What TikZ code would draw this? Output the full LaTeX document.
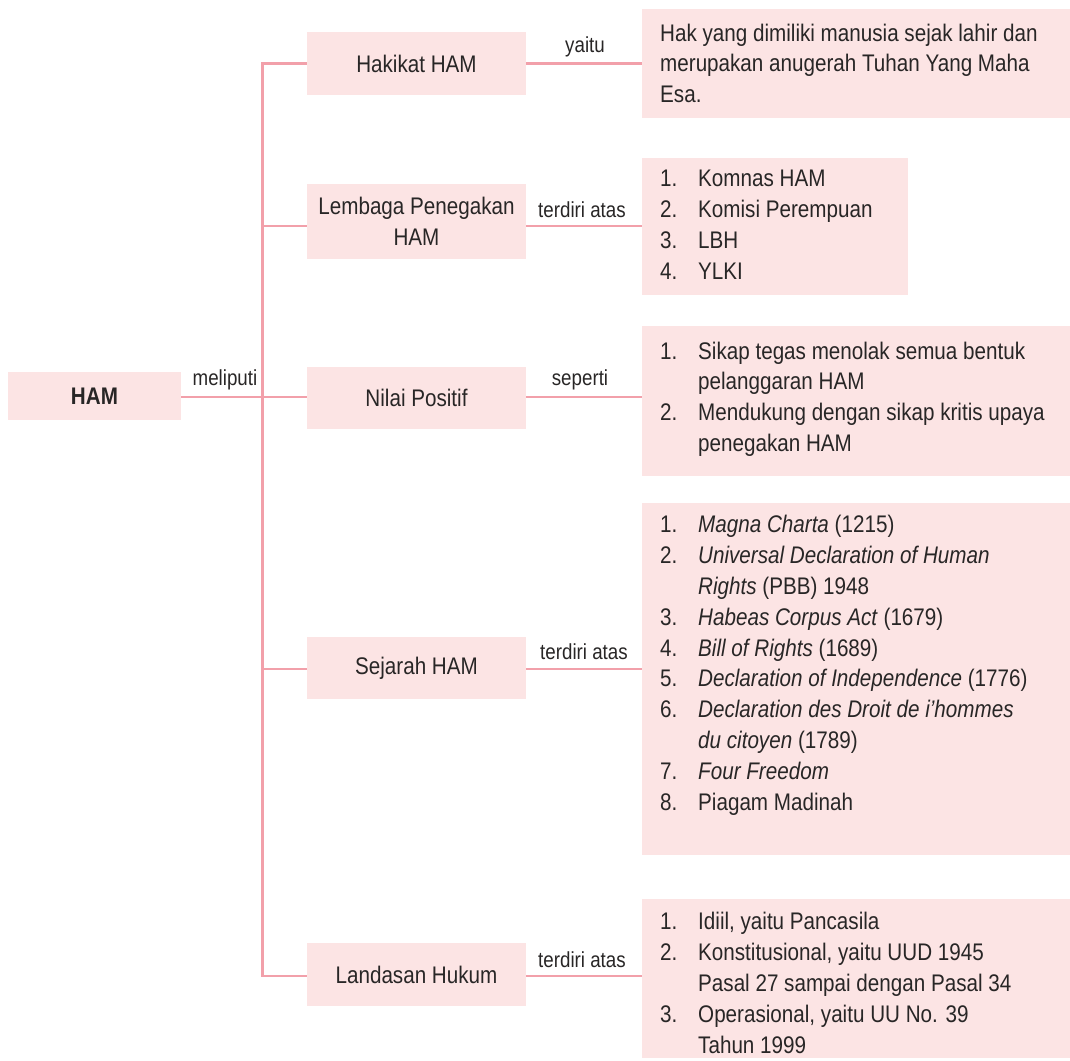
\documentclass[tikz,border=0pt]{standalone}
\usepackage{fontspec}
\setmainfont[FakeStretch=0.86]{Liberation Sans}
\definecolor{boxpink}{RGB}{252,228,228}
\definecolor{linepink}{RGB}{242,160,170}
\definecolor{ink}{RGB}{40,38,38}
\newcommand{\itm}[2]{\makebox[38pt][l]{#1.}#2}
\newcommand{\cnt}[1]{\hspace*{38pt}#1}
\begin{document}
\begin{tikzpicture}[x=1pt,y=-1pt,
  box/.style={fill=boxpink, draw=none, inner sep=0pt, text=ink, align=center,
    font=\fontsize{24}{30.8}\selectfont},
  txt/.style={inner sep=0pt, text=ink, align=left, font=\fontsize{24}{30.8}\selectfont},
  lbl/.style={inner sep=0pt, text=ink, font=\fontsize{21.8}{24}\selectfont},
  conn/.style={draw=linepink, line width=2.4pt}]
\useasboundingbox (0,0) rectangle (1070,1060);
% left and middle boxes
\node[box, minimum width=173pt, minimum height=48pt, font=\fontsize{24}{30.8}\selectfont\bfseries] (ham) at (94.5,396) {HAM};
\node[box, minimum width=219pt, minimum height=63pt] (hak) at (416.5,63.5) {Hakikat HAM};
\node[box, minimum width=219pt, minimum height=75pt] (lem) at (416.5,221.5) {Lembaga Penegakan\\HAM};
\node[box, minimum width=219pt, minimum height=62pt] (nil) at (416.5,398) {Nilai Positif};
\node[box, minimum width=219pt, minimum height=62pt] (sej) at (416.5,668) {Sejarah HAM};
\node[box, minimum width=219pt, minimum height=63pt] (lan) at (416.5,974.5) {Landasan Hukum};
% right boxes
\node[box, anchor=north west, minimum width=428pt, minimum height=109pt] (b1) at (642,9) {};
\node[box, anchor=north west, minimum width=266pt, minimum height=137pt] (b2) at (642,158) {};
\node[box, anchor=north west, minimum width=428pt, minimum height=150pt] (b3) at (642,326) {};
\node[box, anchor=north west, minimum width=428pt, minimum height=352pt] (b4) at (642,503) {};
\node[box, anchor=north west, minimum width=428pt, minimum height=159pt] (b5) at (642,899) {};
% texts (base anchor = baseline of last line)
\node[txt, anchor=base west] (t1) at (660,102.6) {Hak yang dimiliki manusia sejak lahir dan\\merupakan anugerah Tuhan Yang Maha\\Esa.};
\node[txt, anchor=base west] (t2) at (660,279) {\itm{1}{Komnas HAM}\\\itm{2}{Komisi Perempuan}\\\itm{3}{LBH}\\\itm{4}{YLKI}};
\node[txt, anchor=base west] (t3) at (660,451.5) {\itm{1}{Sikap tegas menolak semua bentuk}\\\cnt{pelanggaran HAM}\\\itm{2}{Mendukung dengan sikap kritis upaya}\\\cnt{penegakan HAM}};
\node[txt, anchor=base west] (t4) at (660,810) {\itm{1}{\textit{Magna Charta} (1215)}\\
\itm{2}{\textit{Universal Declaration of Human}}\\
\cnt{\textit{Rights} (PBB) 1948}\\
\itm{3}{\textit{Habeas Corpus Act} (1679)}\\
\itm{4}{\textit{Bill of Rights} (1689)}\\
\itm{5}{\textit{Declaration of Independence} (1776)}\\
\itm{6}{\textit{Declaration des Droit de i'hommes}}\\
\cnt{\textit{du citoyen} (1789)}\\
\itm{7}{\textit{Four Freedom}}\\
\itm{8}{Piagam Madinah}};
\node[txt, anchor=base west] (t5) at (660,1053) {\itm{1}{Idiil, yaitu Pancasila}\\
\itm{2}{Konstitusional, yaitu UUD 1945}\\
\cnt{Pasal 27 sampai dengan Pasal 34}\\
\itm{3}{Operasional, yaitu UU No. 39}\\
\cnt{Tahun 1999}};
% connectors
\coordinate (top) at (262.5,63.5);
\coordinate (bot) at (262.5,976);
\coordinate (c2) at (262.5,226);
\coordinate (c3) at (262.5,397);
\coordinate (c4) at (262.5,669);
\draw[conn] (hak.west) -- (top) -- (bot) -- (bot -| lan.west);
\draw[conn] (c2) -- (c2 -| lem.west);
\draw[conn] (c3) -- (c3 -| nil.west);
\draw[conn] (c4) -- (c4 -| sej.west);
\draw[conn] (ham.east |- c3) -- (c3);
\draw[conn] (hak.east) -- (hak.east -| b1.west);
\draw[conn] (lem.east |- c2) -- (c2 -| b2.west);
\draw[conn] (nil.east |- c3) -- (c3 -| b3.west);
\draw[conn] (sej.east |- c4) -- (c4 -| b4.west);
\draw[conn] (lan.east |- bot) -- (bot -| b5.west);
% labels
\node[lbl] (l0) at (225,380) {meliputi};
\node[lbl] (l1) at (585,47) {yaitu};
\node[lbl] (l2) at (582,210) {terdiri atas};
\node[lbl] (l3) at (580,380) {seperti};
\node[lbl] (l4) at (584,652) {terdiri atas};
\node[lbl] (l5) at (582,960) {terdiri atas};
\end{tikzpicture}
\end{document}
